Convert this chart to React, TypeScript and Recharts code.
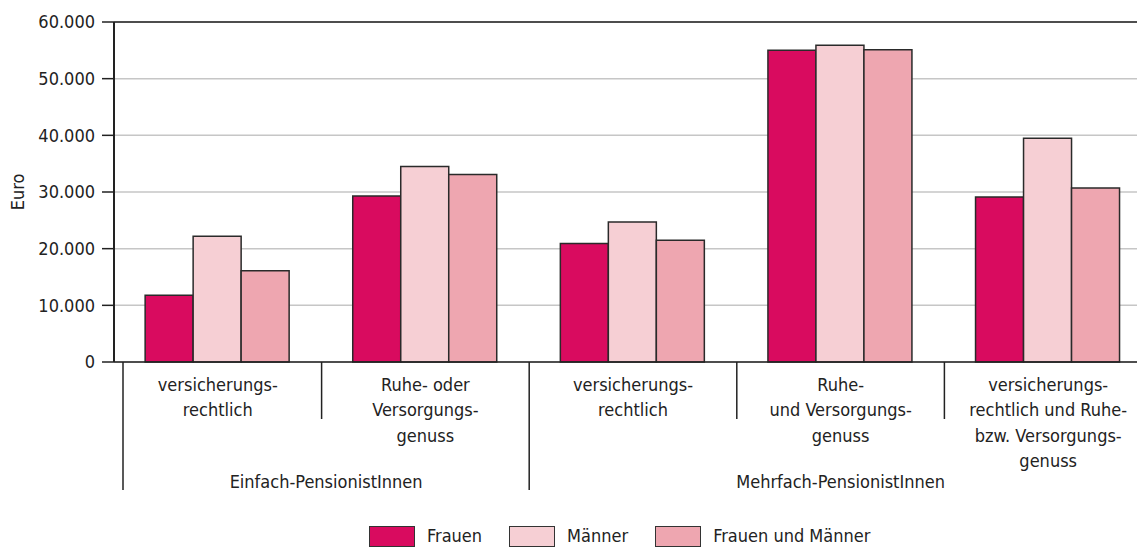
import React from 'react'
import {
  BarChart,
  Bar,
  XAxis,
  YAxis,
  CartesianGrid,
  ReferenceLine,
  Legend,
} from 'recharts'

// categories (x axis) and their multi-line labels
const categories = ['ev', 'er', 'mv', 'mr', 'mvr']
const tickLines: string[][] = [
  ['versicherungs-', 'rechtlich'],
  ['Ruhe- oder', 'Versorgungs-', 'genuss'],
  ['versicherungs-', 'rechtlich'],
  ['Ruhe-', 'und Versorgungs-', 'genuss'],
  ['versicherungs-', 'rechtlich und Ruhe-', 'bzw. Versorgungs-', 'genuss'],
]
const groupLabels = ['Einfach-PensionistInnen', 'Mehrfach-PensionistInnen']

// series values in Euro
const frauen = [11800, 29300, 20900, 55000, 29100]
const maenner = [22200, 34500, 24700, 55900, 39500]
const beide = [16100, 33100, 21500, 55100, 30700]

const yTicks = [0, 10000, 20000, 30000, 40000, 50000, 60000]

const series = [
  { key: 'frauen', name: 'Frauen', color: '#d90b5f' },
  { key: 'maenner', name: 'Männer', color: '#f6cfd4' },
  { key: 'beide', name: 'Frauen und Männer', color: '#eea6b0' },
]

const data = categories.map((c, i) => ({
  cat: c,
  frauen: frauen[i],
  maenner: maenner[i],
  beide: beide[i],
}))

const FONT = "'DejaVu Sans Condensed', 'DejaVu Sans', sans-serif"
const INK = '#222'
const CHART_W = 1152
const CHART_H = 548
const Y_AXIS_W = 114
const BAND = (CHART_W - Y_AXIS_W) / categories.length

const fmt = (v: number) =>
  String(v).replace(/\B(?=(\d{3})+(?!\d))/g, '.')

const txtStyle = { fontStretch: 'condensed' as const }

const CategoryTick = (props: any) => {
  const { x, y, payload } = props
  const i = categories.indexOf(payload.value)
  const lines = tickLines[i] || []
  const half = BAND / 2
  const sepX = i === 0 ? x - half + 9 : x - half
  const isGroupStart = i === 0 || i === 2
  return (
    <g>
      <line
        x1={sepX}
        x2={sepX}
        y1={y}
        y2={isGroupStart ? y + 128 : y + 57}
        stroke={INK}
        strokeWidth={1.5}
      />
      {lines.map((l, k) => (
        <text
          key={k}
          x={x}
          y={y + 28.5 + k * 25.5}
          textAnchor="middle"
          fill={INK}
          fontSize={18}
          fontFamily={FONT}
          style={txtStyle}
        >
          {l}
        </text>
      ))}
      {i === 0 && (
        <text x={x + half + 4.5} y={y + 126} textAnchor="middle" fill={INK} fontSize={18} fontFamily={FONT} style={txtStyle}>
          {groupLabels[0]}
        </text>
      )}
      {i === 2 && (
        <text x={x + BAND} y={y + 126} textAnchor="middle" fill={INK} fontSize={18} fontFamily={FONT} style={txtStyle}>
          {groupLabels[1]}
        </text>
      )}
    </g>
  )
}

const EuroLabel = (props: any) => {
  const vb = props.viewBox || {}
  const cy = (vb.y || 0) + (vb.height || 0) / 2
  return (
    <text
      x={17}
      y={cy}
      transform={`rotate(-90 17 ${cy})`}
      textAnchor="middle"
      dominantBaseline="central"
      fill={INK}
      fontSize={18}
      fontFamily={FONT}
      style={txtStyle}
    >
      Euro
    </text>
  )
}

const LegendContent = () => (
  <div
    style={{
      height: 56,
      boxSizing: 'border-box',
      display: 'flex',
      alignItems: 'flex-end',
      paddingLeft: 369,
      paddingBottom: 1,
      fontFamily: FONT,
      fontStretch: 'condensed',
      fontSize: 18,
      color: INK,
    }}
  >
    {series.map((s) => (
      <div key={s.key} style={{ display: 'flex', alignItems: 'center', marginRight: 27 }}>
        <span
          style={{
            display: 'inline-block',
            width: 44,
            height: 19,
            background: s.color,
            border: '1.5px solid #333',
            marginRight: 12,
          }}
        />
        <span style={{ lineHeight: '22px' }}>{s.name}</span>
      </div>
    ))}
  </div>
)

export default function App() {
  return (
    <div
      style={{
        position: 'absolute',
        left: 0,
        top: 0,
        width: 1137,
        height: 548,
        overflow: 'hidden',
        background: '#fff',
      }}
    >
      <BarChart
        width={CHART_W}
        height={CHART_H}
        data={data}
        margin={{ top: 22, right: 0, bottom: 0, left: 0 }}
        barCategoryGap="15%"
        barGap={0}
      >
        <CartesianGrid vertical={false} stroke="#c6c6c6" strokeWidth={1.5} />
        <ReferenceLine y={60000} stroke={INK} strokeWidth={1.5} />
        <XAxis
          dataKey="cat"
          height={130}
          interval={0}
          tick={<CategoryTick />}
          tickLine={false}
          tickSize={0}
          tickMargin={0}
          axisLine={{ stroke: INK, strokeWidth: 1.5 }}
        />
        <YAxis
          width={Y_AXIS_W}
          domain={[0, 60000]}
          ticks={yTicks}
          tickFormatter={fmt}
          tickSize={12}
          tickMargin={7}
          tickLine={{ stroke: INK, strokeWidth: 1.5 }}
          axisLine={{ stroke: INK, strokeWidth: 2 }}
          tick={{ fill: INK, fontSize: 18, fontFamily: FONT, style: txtStyle }}
          label={<EuroLabel />}
        />
        <Legend verticalAlign="bottom" content={<LegendContent />} />
        {series.map((s) => (
          <Bar
            key={s.key}
            dataKey={s.key}
            name={s.name}
            fill={s.color}
            stroke="#2a2a2a"
            strokeWidth={1.5}
            isAnimationActive={false}
          />
        ))}
      </BarChart>
    </div>
  )
}
